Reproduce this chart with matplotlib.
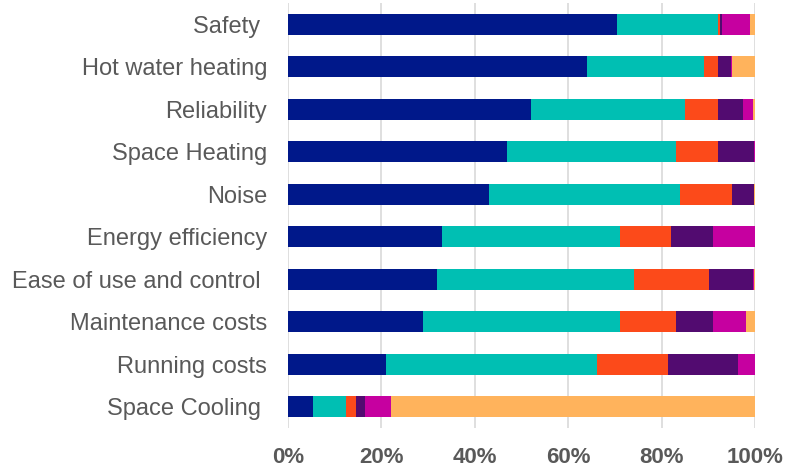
import matplotlib
matplotlib.use("Agg")
import matplotlib.pyplot as plt
import numpy as np
from matplotlib.ticker import FuncFormatter

plt.rcParams['font.family'] = ['Liberation Sans', 'DejaVu Sans']

categories = ["Safety ", "Hot water heating", "Reliability", "Space Heating", "Noise",
              "Energy efficiency", "Ease of use and control ", "Maintenance costs",
              "Running costs", "Space Cooling "]

s1 = [70.5, 64.0, 52.0, 47.0, 43.0, 33.0, 32.0, 29.0, 21.0, 5.4]
s2 = [21.5, 25.0, 33.0, 36.1, 41.0, 38.0, 42.0, 42.0, 45.2, 7.0]
s3 = [0.4, 3.0, 7.0, 8.9, 11.1, 11.0, 16.1, 12.1, 15.2, 2.1]
s4 = [0.5, 2.9, 5.4, 7.8, 4.7, 9.0, 9.5, 7.9, 14.9, 2.0]
s5 = [6.0, 0.2, 2.2, 0.1, 0.0, 9.0, 0.2, 7.0, 3.6, 5.5]
s6 = [1.1, 4.9, 0.4, 0.1, 0.2, 0.0, 0.2, 2.0, 0.1, 78.0]
series = [s1, s2, s3, s4, s5, s6]
colors = ["#00188A", "#00BFB3", "#FC4A1A", "#520B70", "#C600A0", "#FFB35C"]

xticks = [0, 20, 40, 60, 80, 100]

fig = plt.figure(figsize=(7.88, 4.70), dpi=100)
ax = fig.add_axes([288/788, 1 - 428/470, (755-288)/788, (428-3)/470])

y = np.arange(len(categories))
left = np.zeros(len(categories))
for vals, c in zip(series, colors):
    v = np.array(vals)
    ax.barh(y, v, left=left, height=0.5, color=c, edgecolor='none', zorder=3)
    left += v

ax.set_ylim(len(categories) - 0.5, -0.5)
ax.set_xlim(0, 100)
ax.set_xticks(xticks)
ax.xaxis.set_major_formatter(FuncFormatter(lambda v, p: f"{int(v)}%"))
ax.set_yticks(y)
ax.set_yticklabels(categories)
ax.grid(axis='x', color='#D9D9D9', linewidth=1.2, zorder=0)
for s in ax.spines.values():
    s.set_visible(False)
ax.tick_params(axis='y', length=0, pad=15, labelsize=17, labelcolor='#595959')
ax.tick_params(axis='x', length=0, pad=14, labelsize=16, labelcolor='#595959')
for lbl in ax.get_xticklabels():
    lbl.set_fontweight('bold')

fig.savefig("out.png", dpi=100)
